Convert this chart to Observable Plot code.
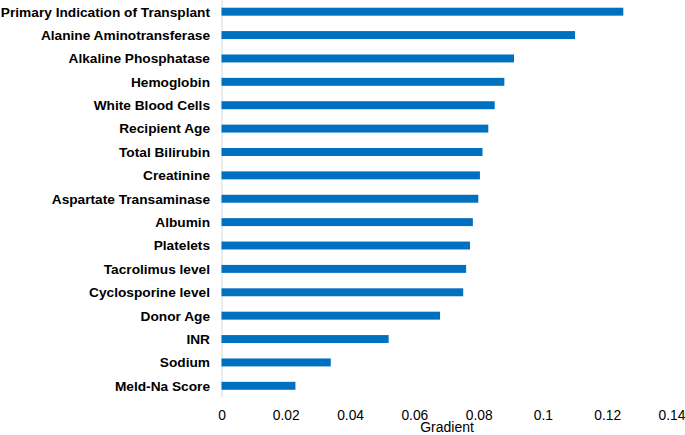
<!DOCTYPE html>
<html>
<head>
<meta charset="utf-8">
<script src="https://cdn.jsdelivr.net/npm/d3@7"></script>
<script src="https://cdn.jsdelivr.net/npm/@observablehq/plot@0.6"></script>
<style>
  html, body { margin: 0; padding: 0; background: #fff; }
  #chart svg { display: block; }
</style>
</head>
<body>
<div id="chart"></div>
<script>
const categories = [
  "Primary Indication of Transplant",
  "Alanine Aminotransferase",
  "Alkaline Phosphatase",
  "Hemoglobin",
  "White Blood Cells",
  "Recipient Age",
  "Total Bilirubin",
  "Creatinine",
  "Aspartate Transaminase",
  "Albumin",
  "Platelets",
  "Tacrolimus level",
  "Cyclosporine level",
  "Donor Age",
  "INR",
  "Sodium",
  "Meld-Na Score"
];
const gradients = [
  0.125, 0.110, 0.091, 0.088, 0.085, 0.083, 0.0812, 0.0804, 0.0799,
  0.0782, 0.0773, 0.0761, 0.0752, 0.068, 0.052, 0.034, 0.023
];
const xTicks = [0, 0.02, 0.04, 0.06, 0.08, 0.1, 0.12, 0.14];
const xTickLabels = ["0", "0.02", "0.04", "0.06", "0.08", "0.1", "0.12", "0.14"];

const data = categories.map((c, i) => ({category: c, value: gradients[i]}));

const chart = Plot.plot({
  width: 685,
  height: 435,
  marginLeft: 221.5,
  marginRight: 13.5,
  marginTop: 0,
  marginBottom: 37.5,
  style: {fontFamily: "'Liberation Sans', Arial, sans-serif", fontSize: "13.8px", color: "#000"},
  x: {domain: [0, 0.14], ticks: xTicks, label: null},
  y: {domain: categories, paddingInner: 0.66, paddingOuter: 0.33, round: false, label: null},
  marks: [
    Plot.ruleX([0], {stroke: "#d9d9d9", strokeWidth: 1}),
    Plot.barX(data, {y: "category", x: "value", fill: "#0070C0"}),
    Plot.axisY({tickSize: 0, tickPadding: 12, fontWeight: "bold", fontSize: 13.7, label: null}),
    Plot.axisX({ticks: xTicks, tickSize: 0, tickPadding: 12, fontSize: 13.8,
      tickFormat: (d) => xTickLabels[xTicks.indexOf(d)], label: null}),
    Plot.text(["Gradient"], {frameAnchor: "bottom", dy: 34, fontSize: 14, lineAnchor: "bottom"})
  ]
});
document.getElementById("chart").appendChild(chart);
</script>
</body>
</html>
